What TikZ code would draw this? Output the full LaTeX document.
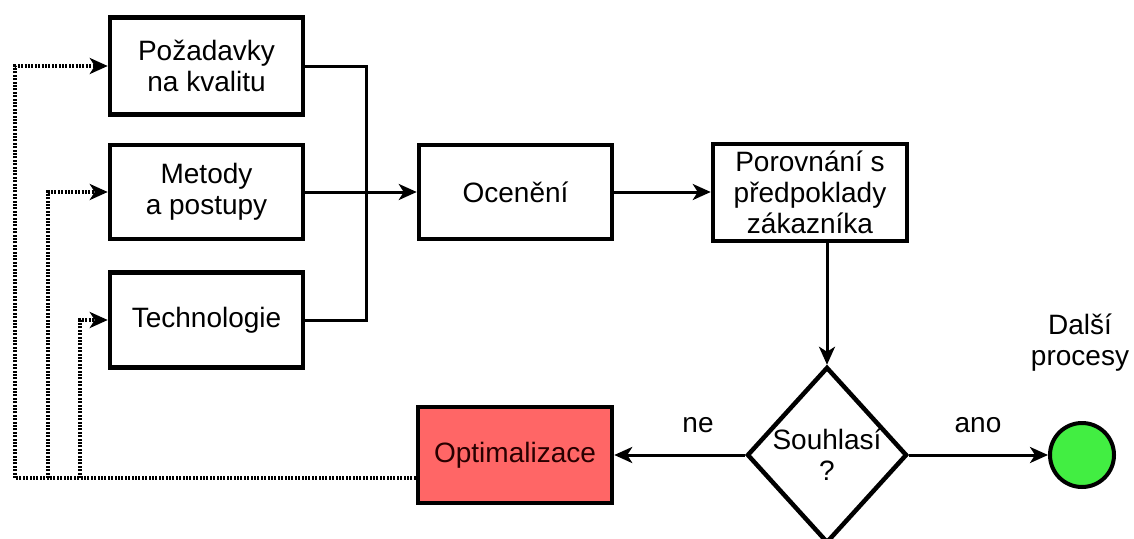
\documentclass[tikz,border=0pt]{standalone}
\usepackage{fontspec}
\setmainfont{Liberation Sans}
\usetikzlibrary{arrows.meta,shapes.geometric,calc}
\definecolor{optred}{RGB}{255,102,102}
\definecolor{endgreen}{RGB}{66,238,66}
\definecolor{darktext}{RGB}{40,0,0}
\tikzset{
  box/.style={draw, line width=4.5pt, fill=white, minimum width=193pt, minimum height=95pt, inner sep=0pt, align=center, font=\fontsize{28}{31}\selectfont},
  conn/.style={line width=3pt, -{Stealth[length=18pt,width=16pt,inset=5pt]}},
  plain/.style={line width=3pt},
  dotline/.style={line width=3.2pt, dash pattern=on 2pt off 1.4pt},
  dotarrow/.style={dotline, -{Stealth[length=18pt,width=16pt,inset=5pt]}},
  lbl/.style={align=center, inner sep=0pt, font=\fontsize{28}{31}\selectfont}
}
\begin{document}
\begin{tikzpicture}[x=1pt,y=-1pt]
\useasboundingbox (0,0) rectangle (1134,538);
\clip (0,0) rectangle (1134,538);
\fill[white] (0,0) rectangle (1134,538);

\node[box, minimum height=97pt] (q) at (206.5,66) {Požadavky\\na kvalitu};
\node[box, minimum height=94pt] (m) at (206.5,192) {Metody\\a postupy};
\node[box] (t) at (206.5,320) {Technologie};
\node[box, minimum height=94pt] (o) at (515.5,192) {Ocenění};
\node[box, minimum width=194pt, minimum height=97pt] (p) at (810,192.5) {Porovnání s\\předpoklady\\zákazníka};
\node[box, diamond, minimum width=160pt, minimum height=176pt, fill=white] (d) at (827,455) {};
\node[lbl] (dt) at (827,455) {Souhlasí\\?};
\node[box, fill=optred, minimum width=194pt, minimum height=96pt, text=darktext] (op) at (515,455) {Optimalizace};
\node[draw, circle, line width=4pt, fill=endgreen, minimum size=64pt, inner sep=0pt] (c) at (1082,455) {};
\node[lbl] (dal) at (1080,343) {Další\\procesy};
\node[lbl] (ne) at (698,425) {ne};
\node[lbl] (ano) at (978,425) {ano};

% merging connectors
\coordinate (j1) at (366,66);
\coordinate (j3) at (366,320);
\draw[plain] (q.east) -- (j1) -- (j3) -- (t.east);
\draw[conn] (m.east) -- (o.west);
\draw[conn] (o.east) -- (o.east -| p.west);
\draw[conn] (d.north |- p.south) -- (d.north);
\draw[conn] (d.west) -- (op.east);
\draw[conn] (d.east) -- (c.west);

% feedback dotted lines
\coordinate (fb) at ($(op.west)+(0,23)$);
\coordinate (b1) at (15,478);
\coordinate (b2) at (48,478);
\coordinate (b3) at (80,478);
\draw[dotline] (fb) -- (b1);
\draw[dotarrow] (b1) -- (b1 |- q.west) -- (q.west);
\draw[dotarrow] (b2) -- (b2 |- m.west) -- (m.west);
\draw[dotarrow] (b3) -- (b3 |- t.west) -- (t.west);
\end{tikzpicture}
\end{document}
